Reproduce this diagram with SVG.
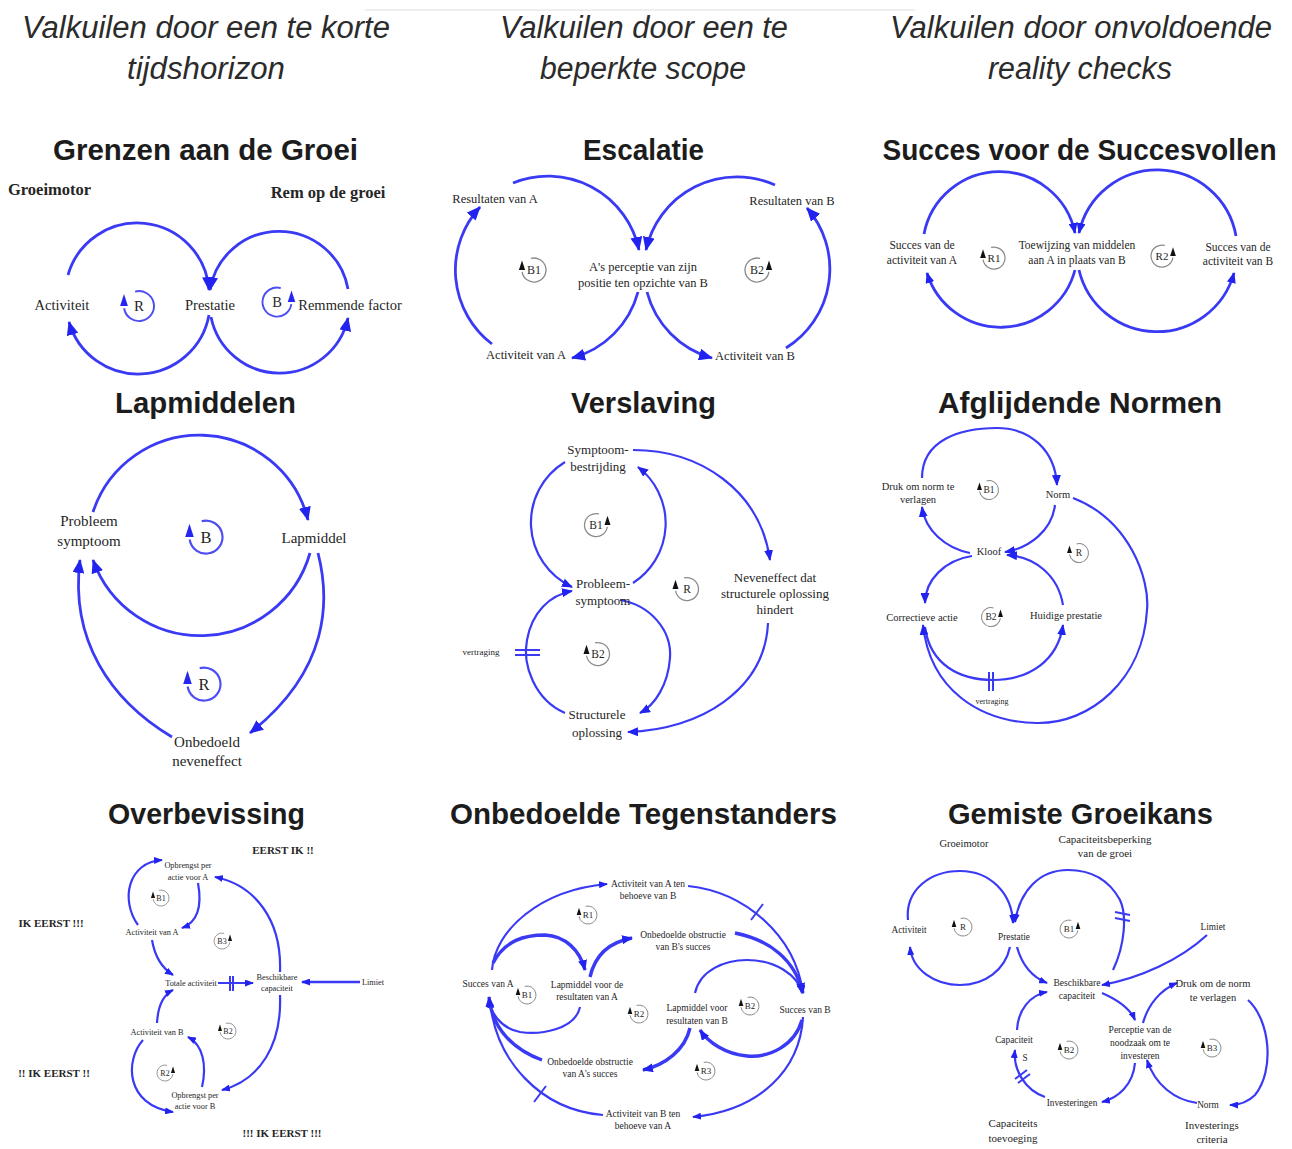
<svg xmlns="http://www.w3.org/2000/svg" width="1292" height="1149" viewBox="0 0 1292 1149">
<defs>
<style>
text{font-family:"Liberation Serif","Times New Roman",serif;fill:#262626;text-anchor:middle}
.hdr{font-family:"Liberation Sans",Arial,sans-serif;font-style:italic;font-size:31px;fill:#2b2b2b}
.ttl{font-family:"Liberation Sans",Arial,sans-serif;font-weight:bold;font-size:29.5px;fill:#1c1c1c}
.bd{font-weight:bold}
.lk{fill:none;stroke:#3a3af5;stroke-width:2.2}
.w3{stroke-width:2.8}
.w4{stroke-width:3.4}
.mL{marker-end:url(#ahL)}
.mM{marker-end:url(#ahM)}
.mS{marker-end:url(#ahS)}
.dl{stroke:#3a3af5;stroke-width:2;fill:none}
.lt{font-size:10px}
.s1{font-size:14.5px}
.s2{font-size:12.5px}
.s3{font-size:11.5px}
.s4{font-size:15px}
.s5{font-size:13px}
.s6{font-size:10.5px}
.s7{font-size:8.3px}
.s8{font-size:9.5px}
.s9{font-size:9.3px}
.big{font-size:11px}
</style>
<marker id="ahL" viewBox="0 0 14 12" refX="13" refY="6" markerWidth="14" markerHeight="12" markerUnits="userSpaceOnUse" orient="auto"><path d="M0,0 L14,6 L0,12 Z" fill="#2323f0"/></marker>
<marker id="ahM" viewBox="0 0 11 9" refX="10" refY="4.5" markerWidth="11" markerHeight="9" markerUnits="userSpaceOnUse" orient="auto"><path d="M0,0 L11,4.5 L0,9 Z" fill="#2323f0"/></marker>
<marker id="ahS" viewBox="0 0 9 7" refX="8" refY="3.5" markerWidth="9" markerHeight="7" markerUnits="userSpaceOnUse" orient="auto"><path d="M0,0 L9,3.5 L0,7 Z" fill="#2323f0"/></marker>
<!-- loop markers: ring with the arrow on the left; mirror with scale(-1,1) -->
<g id="ringG"><path d="M-2.6,-9.6 A10,10 0 1 1 -9.9,1.5" fill="none" stroke="#8a8a8a" stroke-width="1.1"/><path d="M-12.6,0 L-7.4,0 L-10,-8 Z" fill="#111"/></g>
<g id="ringB"><path d="M-2.6,-9.6 A10,10 0 1 1 -9.9,1.5" fill="none" stroke="#4d4df5" stroke-width="1.3"/><path d="M-12.6,0 L-7.4,0 L-10,-8 Z" fill="#2626f0"/></g>
</defs>
<rect width="1292" height="1149" fill="#ffffff"/>
<line x1="365" y1="10" x2="915" y2="10" stroke="#e8e8e8" stroke-width="1.5"/>

<!-- column headers -->
<g id="headers">
<text class="hdr" x="206" y="38" textLength="368" lengthAdjust="spacingAndGlyphs">Valkuilen door een te korte</text>
<text class="hdr" x="206" y="79" textLength="158" lengthAdjust="spacingAndGlyphs">tijdshorizon</text>
<text class="hdr" x="644" y="38" textLength="288" lengthAdjust="spacingAndGlyphs">Valkuilen door een te</text>
<text class="hdr" x="643" y="79" textLength="206" lengthAdjust="spacingAndGlyphs">beperkte scope</text>
<text class="hdr" x="1081" y="38" textLength="382" lengthAdjust="spacingAndGlyphs">Valkuilen door onvoldoende</text>
<text class="hdr" x="1080" y="79" textLength="184" lengthAdjust="spacingAndGlyphs">reality checks</text>
</g>

<!-- archetype titles -->
<g id="titles">
<text class="ttl" x="205.5" y="160" textLength="305" lengthAdjust="spacingAndGlyphs">Grenzen aan de Groei</text>
<text class="ttl" x="643.5" y="160" textLength="121" lengthAdjust="spacingAndGlyphs">Escalatie</text>
<text class="ttl" transform="translate(1079.5,160) scale(0.95,1)">Succes voor de Succesvollen</text>
<text class="ttl" x="205.5" y="413" textLength="181" lengthAdjust="spacingAndGlyphs">Lapmiddelen</text>
<text class="ttl" x="643.5" y="413" textLength="145" lengthAdjust="spacingAndGlyphs">Verslaving</text>
<text class="ttl" x="1080" y="413" textLength="284" lengthAdjust="spacingAndGlyphs">Afglijdende Normen</text>
<text class="ttl" x="206.5" y="824" textLength="197" lengthAdjust="spacingAndGlyphs">Overbevissing</text>
<text class="ttl" x="643.5" y="824" textLength="387" lengthAdjust="spacingAndGlyphs">Onbedoelde Tegenstanders</text>
<text class="ttl" x="1080.5" y="824" textLength="265" lengthAdjust="spacingAndGlyphs">Gemiste Groeikans</text>
</g>

<!-- ===== Grenzen aan de Groei ===== -->
<g id="grenzen">
<g id="grenzen-links">
<path class="lk w3 mL" d="M68,275 A72,72 0 0 1 209,290"/>
<path class="lk w3 mL" d="M209,315 A72,72 0 0 1 69,322"/>
<path class="lk w3 mL" d="M348,289 A70,70 0 0 0 210,290"/>
<path class="lk w3 mL" d="M211,317 A70,70 0 0 0 348,318"/>
</g>
<g id="gr-groeimotor"><text class="bd" style="font-size:16.5px;text-anchor:start" x="8" y="195">Groeimotor</text></g>
<g id="gr-rem"><text class="bd" style="font-size:16.5px" x="328" y="198">Rem op de groei</text></g>
<g id="gr-activiteit"><text class="s1" x="62" y="310">Activiteit</text></g>
<g id="gr-prestatie"><text class="s1" x="210" y="310">Prestatie</text></g>
<g id="gr-remmende"><text class="s1" x="350" y="310">Remmende factor</text></g>
<g id="gr-loop-r" transform="translate(139,306) scale(1.5)"><use href="#ringB"/><text class="lt" y="3.5">R</text></g>
<g id="gr-loop-b" transform="translate(277,302) scale(1.45)"><use href="#ringB" transform="scale(-1,1)"/><text class="lt" y="3.5">B</text></g>
</g>

<!-- ===== Escalatie ===== -->
<g id="escalatie">
<g id="escalatie-links">
<path class="lk w3 mL" d="M513,183 A93,93 0 0 1 639,250"/>
<path class="lk w3 mL" d="M638,292 A93,93 0 0 1 572,358"/>
<path class="lk w3 mL" d="M492,344 A93,93 0 0 1 480,207"/>
<path class="lk w3 mL" d="M775,185 A93,93 0 0 0 646,250"/>
<path class="lk w3 mL" d="M647,292 A93,93 0 0 0 712,358"/>
<path class="lk w3 mL" d="M786,348 A93,93 0 0 0 807,208"/>
</g>
<g id="es-res-a"><text class="s2" x="495" y="203">Resultaten van A</text></g>
<g id="es-res-b"><text class="s2" x="792" y="205">Resultaten van B</text></g>
<g id="es-perceptie"><text class="s2" x="643" y="271">A's perceptie van zijn</text><text class="s2" x="643" y="287">positie ten opzichte van B</text></g>
<g id="es-act-a"><text class="s2" x="526" y="359">Activiteit van A</text></g>
<g id="es-act-b"><text class="s2" x="755" y="360">Activiteit van B</text></g>
<g id="es-loop-b1" transform="translate(534,270) scale(1.2)"><use href="#ringG"/><text class="lt" y="3.5">B1</text></g>
<g id="es-loop-b2" transform="translate(757,270) scale(1.2)"><use href="#ringG" transform="scale(-1,1)"/><text class="lt" y="3.5">B2</text></g>
</g>

<!-- ===== Succes voor de Succesvollen ===== -->
<g id="succes">
<g id="succes-links">
<path class="lk w3 mM" d="M924,234 A77,77 0 0 1 1075,233"/>
<path class="lk w3 mM" d="M1075,270 A77,77 0 0 1 927,273"/>
<path class="lk w3 mM" d="M1236,236 A80,80 0 0 0 1079,233"/>
<path class="lk w3 mM" d="M1079,270 A80,80 0 0 0 1234,273"/>
</g>
<g id="su-succes-a"><text class="s3" x="922" y="249">Succes van de</text><text class="s3" x="922" y="264">activiteit van A</text></g>
<g id="su-toewijzing"><text class="s3" x="1077" y="249">Toewijzing van middelen</text><text class="s3" x="1077" y="264">aan A in plaats van B</text></g>
<g id="su-succes-b"><text class="s3" x="1238" y="251">Succes van de</text><text class="s3" x="1238" y="265">activiteit van B</text></g>
<g id="su-loop-r1" transform="translate(994,258) scale(1.1)"><use href="#ringG"/><text class="lt" y="3.5">R1</text></g>
<g id="su-loop-r2" transform="translate(1162,256) scale(1.1)"><use href="#ringG" transform="scale(-1,1)"/><text class="lt" y="3.5">R2</text></g>
</g>

<!-- ===== Lapmiddelen ===== -->
<g id="lapmiddelen">
<g id="lapmiddelen-links">
<path class="lk w3 mL" d="M93,512 A112,112 0 0 1 308,520"/>
<path class="lk w3 mL" d="M310,553 A114,114 0 0 1 93,560"/>
<path class="lk w3 mL" d="M318,553 C330,600 330,670 250,733"/>
<path class="lk w3 mL" d="M172,737 C110,700 70,640 80,560"/>
</g>
<g id="la-probleem"><text class="s4" x="89" y="526">Probleem</text><text class="s4" x="89" y="546">symptoom</text></g>
<g id="la-lapmiddel"><text class="s4" x="314" y="543">Lapmiddel</text></g>
<g id="la-onbedoeld"><text class="s4" x="207" y="747">Onbedoeld</text><text class="s4" x="207" y="766">neveneffect</text></g>
<g id="la-loop-b" transform="translate(206,537) scale(1.65)"><use href="#ringB"/><text class="lt" y="3.5">B</text></g>
<g id="la-loop-r" transform="translate(204,684) scale(1.65)"><use href="#ringB"/><text class="lt" y="3.5">R</text></g>
</g>

<!-- ===== Verslaving ===== -->
<g id="verslaving">
<g id="verslaving-links">
<path class="lk mM" d="M565,462 A71,71 0 0 0 572,587"/>
<path class="lk mM" d="M633,583 A71,71 0 0 0 638,467"/>
<path class="lk mM" d="M565,713 C535,700 522,665 527,640 C532,612 550,595 572,591"/>
<path class="lk mM" d="M620,600 C650,605 672,630 670,658 C668,685 655,705 640,713"/>
<path class="lk mM" d="M633,450 C700,450 760,490 770,560"/>
<path class="lk mM" d="M768,623 C765,690 700,730 628,732"/>
<path class="dl" d="M515,650 H540 M515,655 H540"/>
</g>
<g id="ve-symptoombestrijding"><text class="s5" x="598" y="454">Symptoom-</text><text class="s5" x="598" y="471">bestrijding</text></g>
<g id="ve-probleemsymptoom"><text class="s5" x="603" y="588">Probleem-</text><text class="s5" x="603" y="605">symptoom</text></g>
<g id="ve-structureel"><text class="s5" x="597" y="719">Structurele</text><text class="s5" x="597" y="737">oplossing</text></g>
<g id="ve-neveneffect"><text class="s5" x="775" y="582">Neveneffect dat</text><text class="s5" x="775" y="598">structurele oplossing</text><text class="s5" x="775" y="614">hindert</text></g>
<g id="ve-vertraging"><text style="font-size:9px" x="481" y="655">vertraging</text></g>
<g id="ve-loop-b1" transform="translate(596,525) scale(1.15)"><use href="#ringG" transform="scale(-1,1)"/><text class="lt" y="3.5">B1</text></g>
<g id="ve-loop-r" transform="translate(687,589) scale(1.15)"><use href="#ringG"/><text class="lt" y="3.5">R</text></g>
<g id="ve-loop-b2" transform="translate(598,654) scale(1.15)"><use href="#ringG"/><text class="lt" y="3.5">B2</text></g>
</g>

<!-- ===== Afglijdende Normen ===== -->
<g id="normen">
<g id="normen-links">
<path class="lk mM" d="M922,478 C922,440 960,428 997,428 C1030,428 1055,450 1057,485"/>
<path class="lk mM" d="M1055,505 C1052,530 1030,548 1005,552"/>
<path class="lk mM" d="M970,553 C945,548 925,530 922,507"/>
<path class="lk mM" d="M972,556 C945,560 925,580 925,603"/>
<path class="lk mM" d="M925,627 C930,665 960,680 993,680 C1030,680 1058,660 1063,625"/>
<path class="lk mM" d="M1063,605 C1058,575 1035,557 1007,555"/>
<path class="lk mM" d="M1073,498 C1130,520 1150,580 1147,610 C1143,680 1090,724 1037,723 C980,722 930,690 923,625"/>
<path class="dl" d="M989,672 V691 M993,672 V691"/>
</g>
<g id="no-druk"><text class="s6" x="918" y="490">Druk om norm te</text><text class="s6" x="918" y="503">verlagen</text></g>
<g id="no-norm"><text class="s6" x="1058" y="498">Norm</text></g>
<g id="no-kloof"><text class="s6" x="989" y="555">Kloof</text></g>
<g id="no-correctief"><text class="s6" x="922" y="621">Correctieve actie</text></g>
<g id="no-prestatie"><text class="s6" x="1066" y="619">Huidige prestatie</text></g>
<g id="no-vertraging"><text style="font-size:8px" x="992" y="704">vertraging</text></g>
<g id="no-loop-b1" transform="translate(989,490) scale(0.95)"><use href="#ringG"/><text class="lt" y="3.5">B1</text></g>
<g id="no-loop-r" transform="translate(1079,553) scale(0.95)"><use href="#ringG"/><text class="lt" y="3.5">R</text></g>
<g id="no-loop-b2" transform="translate(991,617) scale(0.95)"><use href="#ringG" transform="scale(-1,1)"/><text class="lt" y="3.5">B2</text></g>
</g>

<!-- ===== Overbevissing ===== -->
<g id="overbevissing">
<g id="overbevissing-links">
<path class="lk mS" d="M138,925 C120,900 128,862 162,860"/>
<path class="lk mS" d="M198,883 C202,905 198,922 182,928"/>
<path class="lk mS" d="M152,940 C155,958 162,968 173,975"/>
<path class="lk mS" d="M218,983 L253,983"/>
<path class="lk mS" style="stroke-width:2.6" d="M360,982 L302,982"/>
<path class="lk mS" d="M280,972 C282,920 255,885 215,877"/>
<path class="lk mS" d="M280,995 C282,1045 260,1080 222,1090"/>
<path class="lk mS" d="M157,1023 C158,1005 163,995 173,990"/>
<path class="lk mS" d="M143,1040 C125,1060 125,1105 173,1112"/>
<path class="lk mS" d="M202,1087 C207,1065 203,1045 188,1037"/>
<path class="dl" d="M230,976 V991 M233,976 V991"/>
</g>
<g id="ov-eerst-ik"><text class="bd big" x="283" y="854">EERST IK !!</text></g>
<g id="ov-ik-eerst-1"><text class="bd big" x="51" y="927">IK EERST !!!</text></g>
<g id="ov-ik-eerst-2"><text class="bd big" x="54" y="1077">!! IK EERST !!</text></g>
<g id="ov-ik-eerst-3"><text class="bd big" x="282" y="1137">!!! IK EERST !!!</text></g>
<g id="ov-opbrengst-a"><text class="s7" x="188" y="868">Opbrengst per</text><text class="s7" x="188" y="880">actie voor A</text></g>
<g id="ov-act-a"><text class="s7" x="152" y="935">Activiteit van A</text></g>
<g id="ov-totaal"><text class="s7" x="191" y="986">Totale activiteit</text></g>
<g id="ov-capaciteit"><text class="s7" x="277" y="980">Beschikbare</text><text class="s7" x="277" y="991">capaciteit</text></g>
<g id="ov-limiet"><text class="s7" x="373" y="985">Limiet</text></g>
<g id="ov-act-b"><text class="s7" x="157" y="1035">Activiteit van B</text></g>
<g id="ov-opbrengst-b"><text class="s7" x="195" y="1098">Opbrengst per</text><text class="s7" x="195" y="1109">actie voor B</text></g>
<g id="ov-loop-b1" transform="translate(161,898) scale(0.8)"><use href="#ringG"/><text class="lt" y="3.5">B1</text></g>
<g id="ov-loop-b3" transform="translate(222,941) scale(0.8)"><use href="#ringG" transform="scale(-1,1)"/><text class="lt" y="3.5">B3</text></g>
<g id="ov-loop-b2" transform="translate(228,1031) scale(0.8)"><use href="#ringG"/><text class="lt" y="3.5">B2</text></g>
<g id="ov-loop-r2" transform="translate(165,1073) scale(0.8)"><use href="#ringG" transform="scale(-1,1)"/><text class="lt" y="3.5">R2</text></g>
</g>

<!-- ===== Onbedoelde Tegenstanders ===== -->
<g id="tegenstanders">
<g id="tegenstanders-links">
<path class="lk mS" d="M492,970 C495,930 540,890 607,884"/>
<path class="lk mS" d="M688,886 C745,892 795,935 803,993"/>
<path class="lk mS" d="M580,1007 C575,1030 540,1035 520,1032 C500,1028 490,1012 489,998"/>
<path class="lk mS" d="M695,993 C700,970 725,960 747,960 C775,960 798,975 802,993"/>
<path class="lk mS" d="M803,1017 C800,1070 760,1110 693,1117"/>
<path class="lk mS" d="M603,1115 C540,1110 495,1060 490,1000"/>
<path class="lk w4 mM" d="M493,963 C505,940 525,935 545,935 C565,936 580,950 585,970"/>
<path class="lk w4 mM" d="M590,977 C595,955 610,942 632,938"/>
<path class="lk w4 mM" d="M735,933 C770,940 795,960 803,993"/>
<path class="lk w4 mM" d="M542,1060 C515,1050 492,1030 489,997"/>
<path class="lk w4 mM" d="M690,1028 C685,1050 665,1065 643,1070"/>
<path class="lk w4 mM" d="M802,1020 C795,1045 770,1058 747,1056 C725,1054 708,1042 700,1030"/>
<path class="dl" d="M751,920 L763,904 M534,1102 L546,1086"/>
</g>
<g id="te-act-a"><text class="s8" x="648" y="887">Activiteit van A ten</text><text class="s8" x="648" y="899">behoeve van B</text></g>
<g id="te-obstructie-b"><text class="s8" x="683" y="938">Onbedoelde obstructie</text><text class="s8" x="683" y="950">van B's succes</text></g>
<g id="te-succes-a"><text class="s8" x="488" y="987">Succes van A</text></g>
<g id="te-lap-a"><text class="s8" x="587" y="988">Lapmiddel voor de</text><text class="s8" x="587" y="1000">resultaten van A</text></g>
<g id="te-lap-b"><text class="s8" x="697" y="1011">Lapmiddel voor</text><text class="s8" x="697" y="1024">resultaten van B</text></g>
<g id="te-succes-b"><text class="s8" x="805" y="1013">Succes van B</text></g>
<g id="te-obstructie-a"><text class="s8" x="590" y="1065">Onbedoelde obstructie</text><text class="s8" x="590" y="1077">van A's succes</text></g>
<g id="te-act-b"><text class="s8" x="643" y="1117">Activiteit van B ten</text><text class="s8" x="643" y="1129">behoeve van A</text></g>
<g id="te-loop-r1" transform="translate(588,915) scale(0.9)"><use href="#ringG"/><text class="lt" y="3.5">R1</text></g>
<g id="te-loop-b1" transform="translate(527,995) scale(0.9)"><use href="#ringG"/><text class="lt" y="3.5">B1</text></g>
<g id="te-loop-r2" transform="translate(639,1014) scale(0.9)"><use href="#ringG"/><text class="lt" y="3.5">R2</text></g>
<g id="te-loop-b2" transform="translate(750,1006) scale(0.9)"><use href="#ringG"/><text class="lt" y="3.5">B2</text></g>
<g id="te-loop-r3" transform="translate(706,1071) scale(0.9)"><use href="#ringG"/><text class="lt" y="3.5">R3</text></g>
</g>

<!-- ===== Gemiste Groeikans ===== -->
<g id="groeikans">
<g id="groeikans-links">
<path class="lk mS" d="M908,920 C905,890 930,871 960,871 C990,871 1012,893 1013,923"/>
<path class="lk mS" d="M1010,947 C1005,970 985,985 960,985 C935,985 912,970 910,947"/>
<path class="lk mS" d="M1113,970 C1125,945 1127,915 1120,900 C1108,878 1090,870 1068,870 C1040,870 1020,890 1015,922"/>
<path class="lk mS" d="M1017,947 C1022,965 1032,977 1047,983"/>
<path class="lk mS" d="M1207,935 C1180,960 1140,978 1102,985"/>
<path class="lk mS" d="M1102,993 C1118,1000 1130,1008 1135,1020"/>
<path class="lk mS" d="M1135,1063 C1133,1085 1118,1098 1102,1102"/>
<path class="lk mS" d="M1045,1097 C1025,1090 1013,1070 1015,1050"/>
<path class="lk mS" d="M1017,1030 C1018,1010 1030,995 1047,992"/>
<path class="lk mS" d="M1143,1023 C1148,1005 1160,990 1177,983"/>
<path class="lk mS" d="M1248,1000 C1270,1020 1275,1070 1255,1095 C1248,1102 1240,1105 1230,1105"/>
<path class="lk mS" d="M1197,1103 C1175,1100 1155,1085 1147,1060"/>
<path class="dl" d="M1115,912 L1130,915 M1115,918 L1130,921"/>
<path class="dl" d="M1015,1079 L1027,1070 M1018,1083 L1030,1074"/>
</g>
<g id="gg-groeimotor"><text class="s6" x="964" y="847">Groeimotor</text></g>
<g id="gg-beperking"><text class="big" x="1105" y="843">Capaciteitsbeperking</text><text class="big" x="1105" y="857">van de groei</text></g>
<g id="gg-activiteit"><text class="s9" x="909" y="933">Activiteit</text></g>
<g id="gg-prestatie"><text class="s9" x="1014" y="940">Prestatie</text></g>
<g id="gg-limiet"><text class="s9" x="1213" y="930">Limiet</text></g>
<g id="gg-beschikbaar"><text class="s8" x="1077" y="986">Beschikbare</text><text class="s8" x="1077" y="999">capaciteit</text></g>
<g id="gg-druk"><text class="s6" x="1213" y="987">Druk om de norm</text><text class="s6" x="1213" y="1001">te verlagen</text></g>
<g id="gg-capaciteit"><text class="s9" x="1014" y="1043">Capaciteit</text></g>
<g id="gg-s"><text class="s9" x="1025" y="1061">S</text></g>
<g id="gg-perceptie"><text class="s8" x="1140" y="1033">Perceptie van de</text><text class="s8" x="1140" y="1046">noodzaak om te</text><text class="s8" x="1140" y="1059">investeren</text></g>
<g id="gg-investeringen"><text class="s9" x="1072" y="1106">Investeringen</text></g>
<g id="gg-norm"><text class="s9" x="1208" y="1108">Norm</text></g>
<g id="gg-toevoeging"><text class="big" x="1013" y="1127">Capaciteits</text><text class="big" x="1013" y="1142">toevoeging</text></g>
<g id="gg-criteria"><text class="big" x="1212" y="1129">Investerings</text><text class="big" x="1212" y="1143">criteria</text></g>
<g id="gg-loop-r" transform="translate(963,927) scale(0.9)"><use href="#ringG"/><text class="lt" y="3.5">R</text></g>
<g id="gg-loop-b1" transform="translate(1069,929) scale(0.9)"><use href="#ringG" transform="scale(-1,1)"/><text class="lt" y="3.5">B1</text></g>
<g id="gg-loop-b2" transform="translate(1069,1050) scale(0.9)"><use href="#ringG"/><text class="lt" y="3.5">B2</text></g>
<g id="gg-loop-b3" transform="translate(1212,1048) scale(0.9)"><use href="#ringG"/><text class="lt" y="3.5">B3</text></g>
</g>
</svg>
